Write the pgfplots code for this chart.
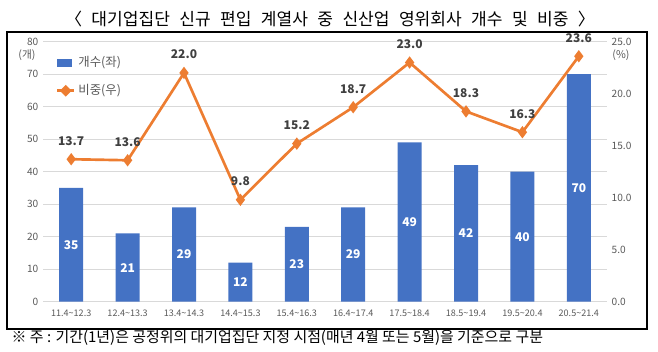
\documentclass[border=0pt]{standalone}
\usepackage{fontspec}
\setmainfont{Noto Sans CJK KR}
\usepackage{pgfplots}
\pgfplotsset{compat=1.18}
\definecolor{barblue}{HTML}{4472C4}
\definecolor{lineorange}{HTML}{ED7D31}
\definecolor{ticktext}{HTML}{595959}
\definecolor{labtext}{HTML}{404040}
\definecolor{gridgray}{HTML}{D9D9D9}
\newcommand\widespace{\spaceskip=0.55em\relax}
\pgfplotstableread{
x cnt share
0 35 13.7
1 21 13.6
2 29 22.0
3 12 9.8
4 23 15.2
5 29 18.7
6 49 23.0
7 42 18.3
8 40 16.3
9 70 23.6
}\datatable
\begin{document}
\begin{tikzpicture}
\begin{scope}[x=0.75pt,y=-0.75pt]
\path[use as bounding box] (0,0) rectangle (658,351);
\draw[black, line width=0.9pt] (7,32) rectangle (647,329);
\node[font=\fontsize{12.8pt}{14pt}\selectfont, text=black] at (330,19) {\widespace 〈 대기업집단 신규 편입 계열사 중 신산업 영위회사 개수 및 비중 〉};
\node[anchor=west, font=\fontsize{11.2pt}{13pt}\selectfont, text=black] at (7,338) {※ 주 : 기간(1년)은 공정위의 대기업집단 지정 시점(매년 4월 또는 5월)을 기준으로 구분};
\node[font=\fontsize{8pt}{9pt}\selectfont, text=ticktext] at (27,55) {(개)};
\node[font=\fontsize{8pt}{9pt}\selectfont, text=ticktext] at (621,55) {(\%)};
\end{scope}
\begin{axis}[
  at={(43*0.75pt,-301.7*0.75pt)}, anchor=south west,
  scale only axis, width=423pt, height=195pt,
  xmin=-0.5, xmax=9.5, ymin=0, ymax=80,
  xtick={0,...,9},
  xticklabels={11.4\textasciitilde12.3,12.4\textasciitilde13.3,13.4\textasciitilde14.3,14.4\textasciitilde15.3,15.4\textasciitilde16.3,16.4\textasciitilde17.4,17.5\textasciitilde18.4,18.5\textasciitilde19.4,19.5\textasciitilde20.4,20.5\textasciitilde21.4},
  ytick={0,10,...,80},
  axis line style={draw=none},
  major tick length=0pt,
  ymajorgrids, grid style={gridgray, line width=0.6pt},
  tick label style={font=\fontsize{7.6pt}{9pt}\selectfont, text=ticktext},
  xticklabel style={font=\fontsize{6.8pt}{8pt}\selectfont, yshift=-3pt},
  /pgf/number format/assume math mode=true,
  legend style={draw=none, fill=none},
]
\addplot[ybar, bar width=18pt, fill=barblue, draw=none,
  visualization depends on={rawy \as \ry},
  nodes near coords,
  nodes near coords style={anchor=center, text=white, font=\fontsize{9pt}{10pt}\selectfont\bfseries, yshift=-\ry*1.21875pt},
] table[x=x, y=cnt] {\datatable};
\end{axis}
\begin{axis}[
  at={(43*0.75pt,-301.7*0.75pt)}, anchor=south west,
  scale only axis, width=423pt, height=195pt,
  xmin=-0.5, xmax=9.5, ymin=0, ymax=25,
  axis x line=none,
  axis y line*=right,
  axis line style={draw=none},
  major tick length=0pt,
  ytick={0,5,...,25},
  yticklabel style={/pgf/number format/.cd, fixed, fixed zerofill, precision=1},
  tick label style={font=\fontsize{7.6pt}{9pt}\selectfont, text=ticktext},
  /pgf/number format/assume math mode=true,
  legend style={draw=none, fill=none, at={(0.015,0.965)}, anchor=north west,
    font=\fontsize{9.3pt}{11pt}\selectfont, text=ticktext, row sep=8pt,
    /tikz/every even column/.append style={column sep=1pt}},
  legend cell align=left,
]
\addlegendimage{legend image code/.code={\fill[barblue] (0pt,-2.5pt) rectangle (10.5pt,2.5pt);}}
\addlegendentry{개수(좌)}
\addplot[lineorange, line width=2pt, mark=diamond*, mark size=3pt,
  mark options={fill=lineorange, draw=lineorange},
  nodes near coords,
  nodes near coords style={anchor=south, yshift=6pt, text=labtext, font=\fontsize{9pt}{10pt}\selectfont\bfseries, /pgf/number format/.cd, fixed, fixed zerofill, precision=1},
  legend image code/.code={\draw[lineorange, line width=2pt] (0pt,0pt) -- (13pt,0pt); \fill[lineorange] (6.5pt,-3pt) -- (9.5pt,0pt) -- (6.5pt,3pt) -- (3.5pt,0pt) -- cycle;},
] table[x=x, y=share] {\datatable};
\addlegendentry{비중(우)}
\end{axis}
\end{tikzpicture}
\end{document}
